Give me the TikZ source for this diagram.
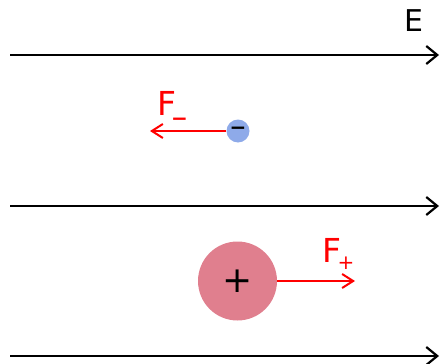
\documentclass[tikz,border=0pt]{standalone}
\usepackage{fontspec}
\setmainfont{DejaVu Sans}
\usetikzlibrary{arrows.meta}
\definecolor{negblue}{HTML}{8EAAE9}
\definecolor{pospink}{HTML}{E07F8E}
\tikzset{
  field/.style={line width=2.2pt, draw=black, -{Straight Barb[length=11pt,width=18pt,line width=2.2pt]}},
  force/.style={line width=2pt, draw=red, -{Straight Barb[length=11pt,width=14pt,line width=2pt]}},
  lab/.style={inner sep=0pt, font=\fontsize{30}{32}\selectfont},
  flab/.style={inner sep=0pt, anchor=base west, text=red, font=\fontsize{33}{36}\selectfont},
  charge/.style={circle, inner sep=0pt, draw=none}
}
\begin{document}
\begin{tikzpicture}[x=1pt,y=-1pt]
\useasboundingbox (0,0) rectangle (440,364);
% field lines
\coordinate (a1) at (10,55);  \coordinate (b1) at (439,55);
\coordinate (a2) at (10,206); \coordinate (b2) at (439,206);
\coordinate (a3) at (10,356); \coordinate (b3) at (439,356);
\draw[field] (a1) -- (b1);
\draw[field] (a2) -- (b2);
\draw[field] (a3) -- (b3);
\node[lab] (E) at (414,21) {E};
% negative charge
\node[charge, fill=negblue, minimum size=23pt] (neg) at (238,131) {};
\node[inner sep=0pt, font=\fontsize{20}{22}\selectfont\bfseries] (negsign) at (238,131) {−};
\coordinate (negtip) at (150,131);
\draw[force] (neg.west) -- (negtip);
\node[flab] (Fm) at (157,115) {F\kern-5pt\raisebox{-10pt}{\fontsize{20}{22}\selectfont\bfseries −}};
% positive charge
\node[charge, fill=pospink, minimum size=79pt] (pos) at (237.5,281) {};
\node[inner sep=0pt, font=\fontsize{36}{38}\selectfont] (possign) at (237.5,281) {+};
\coordinate (postip) at (355,281);
\draw[force] (pos.east) -- (postip);
\node[flab] (Fp) at (322,262) {F\kern-3.5pt\raisebox{-7pt}{\fontsize{20}{22}\selectfont +}};
\end{tikzpicture}
\end{document}
